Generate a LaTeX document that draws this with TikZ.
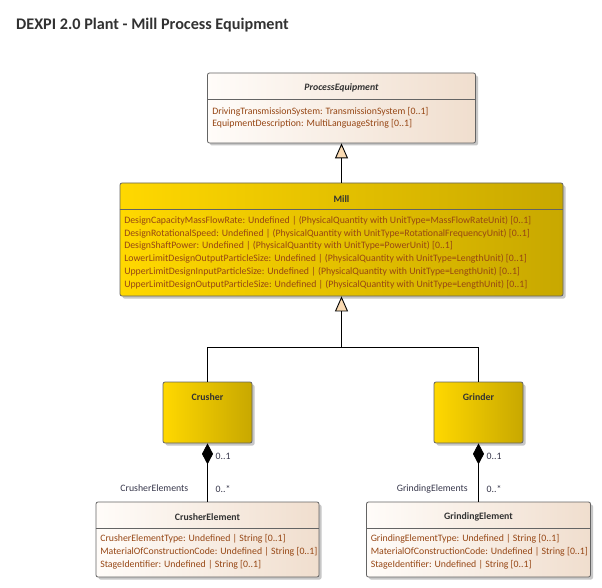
\documentclass[tikz,border=0pt]{standalone}
\usepackage{fontspec}
\setmainfont{Carlito}
\usetikzlibrary{shadows,arrows.meta,calc}
\definecolor{bordc}{RGB}{100,100,100}
\definecolor{peachL}{RGB}{255,252,249}
\definecolor{peachR}{RGB}{240,222,206}
\definecolor{goldL}{RGB}{255,216,0}
\definecolor{goldR}{RGB}{200,168,0}
\definecolor{attrc}{RGB}{150,70,20}
\definecolor{titc}{RGB}{50,50,50}
\definecolor{labc}{RGB}{55,55,75}
\definecolor{trifill}{RGB}{250,218,178}
\tikzset{
  boxbase/.style={draw=bordc, line width=0.8pt, rounded corners=2pt, inner sep=0pt,
    drop shadow={shadow xshift=2.5pt, shadow yshift=-2.5pt, fill=black!22, opacity=1}},
  cls/.style={boxbase, left color=peachL, right color=peachR},
  ycls/.style={boxbase, left color=goldL, right color=goldR},
  ttl/.style={font=\fontsize{9.8}{11}\selectfont\bfseries, text=titc, inner sep=0pt},
  attr/.style={font=\fontsize{9.8}{11}\selectfont, text=attrc, anchor=west, inner sep=0pt},
  lab/.style={font=\fontsize{9.8}{11}\selectfont, text=labc, inner sep=0pt},
  divider/.style={draw=bordc, line width=0.8pt},
  conn/.style={draw=black, line width=0.9pt},
  gen/.style={conn, -{Triangle[length=15pt,width=13pt,fill=trifill]}},
  comp/.style={conn, {Diamond[length=21pt,width=11pt,fill=black]}-}
}
\begin{document}
\begin{tikzpicture}[x=1pt,y=-1pt]
\useasboundingbox[fill=white] (0,0) rectangle (602,588);
\node[font=\fontsize{16.2}{18}\selectfont\bfseries, text=titc, anchor=west, inner sep=0pt] (title) at (16,25) {DEXPI 2.0 Plant - Mill Process Equipment};

% ProcessEquipment
\node[cls, minimum width=268pt, minimum height=70pt] (pe) at (341.5,108) {};
\draw[divider] ([yshift=-27pt]pe.north west) -- ([yshift=-27pt]pe.north east);
\node[ttl] (pet) at ([yshift=-15pt]pe.north) {\textit{ProcessEquipment}};
\node[attr] (pea1) at ([xshift=5pt,yshift=-39pt]pe.north west) {DrivingTransmissionSystem: TransmissionSystem [0..1]};
\node[attr] (pea2) at ([xshift=5pt,yshift=-51.5pt]pe.north west) {EquipmentDescription: MultiLanguageString [0..1]};

% Mill
\node[ycls, minimum width=443pt, minimum height=113pt] (mill) at (341.5,239.5) {};
\draw[divider] ([yshift=-27pt]mill.north west) -- ([yshift=-27pt]mill.north east);
\node[ttl] (millt) at ([yshift=-16pt]mill.north) {Mill};
\node[attr] (ma1) at ([xshift=4.5pt,yshift=-38pt]mill.north west) {DesignCapacityMassFlowRate: Undefined | (PhysicalQuantity with UnitType=MassFlowRateUnit) [0..1]};
\node[attr] (ma2) at ([xshift=4.5pt,yshift=-50.8pt]mill.north west) {DesignRotationalSpeed: Undefined | (PhysicalQuantity with UnitType=RotationalFrequencyUnit) [0..1]};
\node[attr] (ma3) at ([xshift=4.5pt,yshift=-63.6pt]mill.north west) {DesignShaftPower: Undefined | (PhysicalQuantity with UnitType=PowerUnit) [0..1]};
\node[attr] (ma4) at ([xshift=4.5pt,yshift=-76.4pt]mill.north west) {LowerLimitDesignOutputParticleSize: Undefined | (PhysicalQuantity with UnitType=LengthUnit) [0..1]};
\node[attr] (ma5) at ([xshift=4.5pt,yshift=-89.2pt]mill.north west) {UpperLimitDesignInputParticleSize: Undefined | (PhysicalQuantity with UnitType=LengthUnit) [0..1]};
\node[attr] (ma6) at ([xshift=4.5pt,yshift=-102pt]mill.north west) {UpperLimitDesignOutputParticleSize: Undefined | (PhysicalQuantity with UnitType=LengthUnit) [0..1]};

% Crusher, Grinder
\node[ycls, minimum width=89pt, minimum height=61pt] (crusher) at (207.5,412.5) {};
\node[ttl] (crushert) at ([yshift=-15pt]crusher.north) {Crusher};
\node[ycls, minimum width=89pt, minimum height=61pt] (grinder) at (478.5,412.5) {};
\node[ttl] (grindert) at ([yshift=-15pt]grinder.north) {Grinder};

% CrusherElement
\node[cls, minimum width=223pt, minimum height=75pt] (ce) at (207.5,539.5) {};
\draw[divider] ([yshift=-27pt]ce.north west) -- ([yshift=-27pt]ce.north east);
\node[ttl] (cet) at ([yshift=-15pt]ce.north) {CrusherElement};
\node[attr] (cea1) at ([xshift=4.5pt,yshift=-37pt]ce.north west) {CrusherElementType: Undefined | String [0..1]};
\node[attr] (cea2) at ([xshift=4.5pt,yshift=-50pt]ce.north west) {MaterialOfConstructionCode: Undefined | String [0..1]};
\node[attr] (cea3) at ([xshift=4.5pt,yshift=-63pt]ce.north west) {StageIdentifier: Undefined | String [0..1]};

% GrindingElement
\node[cls, minimum width=224pt, minimum height=75pt] (ge) at (478.5,539.5) {};
\draw[divider] ([yshift=-27pt]ge.north west) -- ([yshift=-27pt]ge.north east);
\node[ttl] (get) at ([yshift=-15pt]ge.north) {GrindingElement};
\node[attr] (gea1) at ([xshift=4.5pt,yshift=-37pt]ge.north west) {GrindingElementType: Undefined | String [0..1]};
\node[attr] (gea2) at ([xshift=4.5pt,yshift=-50pt]ge.north west) {MaterialOfConstructionCode: Undefined | String [0..1]};
\node[attr] (gea3) at ([xshift=4.5pt,yshift=-63pt]ge.north west) {StageIdentifier: Undefined | String [0..1]};

% Generalizations
\draw[gen] (mill.north) -- (pe.south);
\coordinate (j) at ([yshift=-51pt]mill.south);
\draw[conn] (crusher.north) |- (j);
\draw[conn] (grinder.north) |- (j);
\draw[gen] (j) -- (mill.south);

% Compositions
\draw[comp] (crusher.south) -- (ce.north);
\draw[comp] (grinder.south) -- (ge.north);

% Labels
\node[lab, anchor=west] (c01) at ([xshift=8pt,yshift=-13pt]crusher.south) {0..1};
\node[lab, anchor=west] (c0s) at ([xshift=8pt,yshift=13pt]ce.north) {0..*};
\node[lab, anchor=east] (cname) at ([xshift=-19pt,yshift=13pt]ce.north) {CrusherElements};
\node[lab, anchor=west] (g01) at ([xshift=8pt,yshift=-13pt]grinder.south) {0..1};
\node[lab, anchor=west] (g0s) at ([xshift=8pt,yshift=13pt]ge.north) {0..*};
\node[lab, anchor=east] (gname) at ([xshift=-10.5pt,yshift=13pt]ge.north) {GrindingElements};
\end{tikzpicture}
\end{document}
